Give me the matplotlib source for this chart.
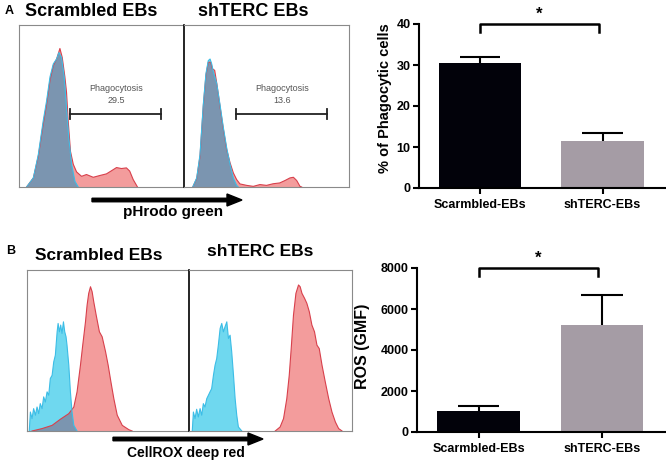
import matplotlib.pyplot as plt
from matplotlib.patches import FancyArrow

plt.rcParams['font.family'] = ['Liberation Sans', 'DejaVu Sans']

W, H = 666, 462

# --- histogram traces (x, y as fraction of panel) ---
a1_blue_x = [.046, .087, .117, .147, .167, .188, .208, .228, .242, .258, .274, .288, .302, .319, .339, .359]
a1_blue_y = [0, .056, .20, .41, .53, .68, .76, .79, .83, .80, .68, .49, .30, .14, .035, 0]
a1_red_x = [.046, .087, .117, .147, .167, .188, .208, .228, .248, .262, .278, .288, .298, .312, .329,
            .349, .379, .409, .450, .490, .530, .560, .591, .621, .651, .671, .692, .718]
a1_red_y = [0, .056, .19, .39, .51, .66, .75, .79, .855, .80, .68, .585, .41, .22, .14,
            .093, .066, .077, .060, .071, .081, .10, .12, .114, .118, .098, .046, 0]

a2_blue_x = [.053, .077, .097, .117, .133, .147, .158, .168, .178, .198, .218, .238, .259, .279, .299, .319, .329]
a2_blue_y = [0, .056, .20, .51, .70, .78, .79, .76, .71, .64, .51, .37, .24, .14, .056, .01, 0]
a2_red_x = [.053, .077, .097, .117, .133, .147, .162, .172, .186, .200, .218, .238, .259, .279, .299,
            .319, .339, .38, .42, .46, .50, .54, .58, .612, .642, .663, .683, .703, .713]
a2_red_y = [0, .052, .19, .50, .69, .77, .77, .73, .72, .63, .50, .36, .23, .15, .087,
            .046, .019, .01, .004, .015, .01, .02, .025, .04, .056, .06, .04, .004, 0]

b1_blue_x = [.014, .021, .031, .041, .052, .062, .072, .082, .093, .103, .113, .124, .134, .144, .155, .165,
             .175, .186, .192, .200, .208, .216, .225, .233, .241, .247, .258, .268, .278, .289, .309]
b1_blue_y = [0, .118, .077, .139, .098, .149, .108, .170, .139, .212, .180, .243, .222, .326, .346, .429,
             .471, .616, .668, .616, .658, .606, .678, .616, .585, .533, .409, .243, .118, .035, 0]
b1_red_x = [.031, .093, .155, .206, .258, .289, .309, .330, .344, .361, .371, .381, .392, .402, .412, .427,
            .447, .464, .485, .501, .518, .536, .557, .588, .629, .649]
b1_red_y = [0, .015, .035, .073, .108, .149, .243, .409, .533, .678, .782, .855, .896, .865, .803, .720,
            .616, .585, .492, .409, .305, .201, .098, .035, .008, 0]

b2_blue_x = [.020, .027, .037, .047, .057, .068, .078, .088, .098, .109, .119, .129, .139, .150, .160,
             .170, .180, .191, .201, .211, .221, .232, .242, .252, .262, .273, .283, .293, .303, .324]
b2_blue_y = [0, .118, .077, .135, .087, .139, .098, .170, .149, .201, .222, .243, .263, .346, .409,
             .450, .533, .637, .668, .616, .647, .678, .575, .595, .492, .346, .201, .098, .025, 0]
b2_red_x = [.529, .559, .580, .600, .615, .627, .641, .656, .672, .682, .693, .709, .723, .738, .754,
            .770, .785, .799, .816, .836, .857, .877, .898, .918, .939]
b2_red_y = [0, .025, .077, .201, .346, .512, .720, .855, .907, .896, .855, .824, .793, .741, .658,
            .616, .533, .512, .409, .305, .201, .118, .056, .015, 0]

# --- bar data ---
groups = ['Scarmbled-EBs', 'shTERC-EBs']
phago_mean = [30.5, 11.5]
phago_err = [1.5, 2.0]
ros_mean = [1040, 5200]
ros_err = [230, 1480]
bar_colors = ['#02020a', '#a59ca5']

red_fill, red_edge = '#f39c9c', '#d8404c'
cyan_fill, cyan_edge = '#6fd8ef', '#3cbde6'
overlap = '#7b95b0'


def px_axes(fig, x0, y0, x1, y1):
    return fig.add_axes([x0 / W, 1 - y1 / H, (x1 - x0) / W, (y1 - y0) / H])


def hist(ax, bx, by, rx, ry):
    red = ax.fill(rx, ry, color=red_fill, lw=0)[0]
    ax.fill(bx, by, color=cyan_fill, lw=0)
    ov = ax.fill(bx, by, color=overlap, lw=0)[0]
    ov.set_clip_path(red)
    ax.plot(rx, ry, color=red_edge, lw=0.8)
    ax.plot(bx, by, color=cyan_edge, lw=0.8)
    ax.set_xlim(0, 1)
    ax.set_ylim(0, 1)
    ax.set_xticks([])
    ax.set_yticks([])
    for s in ax.spines.values():
        s.set_color('#8a8a8a')
        s.set_linewidth(0.8)


def gate(ax, x0, x1, y, label, value):
    ax.plot([x0, x1], [y, y], color='#222222', lw=1.3)
    ax.plot([x0, x0], [y - .03, y + .03], color='#222222', lw=1.3)
    ax.plot([x1, x1], [y - .03, y + .03], color='#222222', lw=1.3)
    xc = (x0 + x1) / 2 + .005
    ax.text(xc, y + .16, label, ha='center', va='center', fontsize=6.5, color='#555555')
    ax.text(xc, y + .085, value, ha='center', va='center', fontsize=6.5, color='#555555')


fig = plt.figure(figsize=(W / 100, H / 100), dpi=100)

# Panel A histograms
axa1 = px_axes(fig, 19, 25, 184, 187)
hist(axa1, a1_blue_x, a1_blue_y, a1_red_x, a1_red_y)
gate(axa1, .308, .859, .45, 'Phagocytosis', '29.5')
axa2 = px_axes(fig, 184, 25, 349, 187)
hist(axa2, a2_blue_x, a2_blue_y, a2_red_x, a2_red_y)
gate(axa2, .313, .865, .45, 'Phagocytosis', '13.6')
axa2.spines['left'].set_color('black')
axa2.spines['left'].set_linewidth(1.2)

# Panel B histograms
axb1 = px_axes(fig, 27, 270, 189, 431)
hist(axb1, b1_blue_x, b1_blue_y, b1_red_x, b1_red_y)
axb2 = px_axes(fig, 189, 270, 352, 431)
hist(axb2, b2_blue_x, b2_blue_y, b2_red_x, b2_red_y)
axb2.spines['left'].set_color('black')
axb2.spines['left'].set_linewidth(1.2)


def bars(ax, means, errs, ymax, yticks, ylabel, ylab_size, sig_lo, star_y):
    x = [0, 1]
    ax.bar(x, means, width=0.67, color=bar_colors)
    tops = [m + e for m, e in zip(means, errs)]
    ax.vlines(x, means, tops, color='black', lw=1.5)
    ax.hlines(tops, [i - 0.167 for i in x], [i + 0.167 for i in x], color='black', lw=1.5)
    ax.set_xlim(-0.498, 1.51)
    ax.set_ylim(0, ymax)
    ax.set_yticks(yticks)
    ax.set_xticks(x)
    ax.set_xticklabels(groups, fontsize=9, fontweight='bold')
    for t in ax.get_yticklabels():
        t.set_fontsize(9)
        t.set_fontweight('bold')
    ax.set_ylabel(ylabel, fontsize=ylab_size, fontweight='bold')
    for s in ['top', 'right']:
        ax.spines[s].set_visible(False)
    for s in ['left', 'bottom']:
        ax.spines[s].set_linewidth(1.5)
    ax.tick_params(width=1.5, length=4, pad=2)
    ax.tick_params(axis='x', pad=4)
    # significance bracket
    ax.plot([0, 0, 0.97, 0.97], [sig_lo, ymax, ymax, sig_lo], color='black', lw=1.8, clip_on=False)
    ax.text(0.485, star_y, '*', ha='center', va='center', fontsize=12, fontweight='bold')


axc = px_axes(fig, 419, 24, 665, 188)
bars(axc, phago_mean, phago_err, 40, [0, 10, 20, 30, 40], '% of Phagocytic cells', 10.5, 38, 42.3)
axd = px_axes(fig, 417, 268, 665, 432)
bars(axd, ros_mean, ros_err, 8000, [0, 2000, 4000, 6000, 8000], 'ROS (GMF)', 11.5, 7610, 8480)
axc.yaxis.set_label_coords(-0.11, 0.55)
axd.yaxis.set_label_coords(-0.19, 0.52)


def ftext(x, y, s, **kw):
    fig.text(x / W, 1 - y / H, s, ha='center', va='center', fontweight='bold', **kw)


ftext(9, 11, 'A', fontsize=9)
ftext(91, 11, 'Scrambled EBs', fontsize=13)
ftext(253, 12, 'shTERC EBs', fontsize=13)
ftext(173, 212, 'pHrodo green', fontsize=11)
ftext(11, 251, 'B', fontsize=9)
ftext(99, 255, 'Scrambled EBs', fontsize=12.5)
ftext(260, 252, 'shTERC EBs', fontsize=12.5)
ftext(186, 453, 'CellROX deep red', fontsize=10)

for x0, x1, y in [(92, 242, 200), (113, 263, 439)]:
    fig.patches.append(FancyArrow(x0 / W, 1 - y / H, (x1 - x0) / W, 0, width=3.5 / H,
                                  head_width=12 / H, head_length=15 / W, length_includes_head=True,
                                  color='black', transform=fig.transFigure))

fig.savefig('out.png', dpi=100)
